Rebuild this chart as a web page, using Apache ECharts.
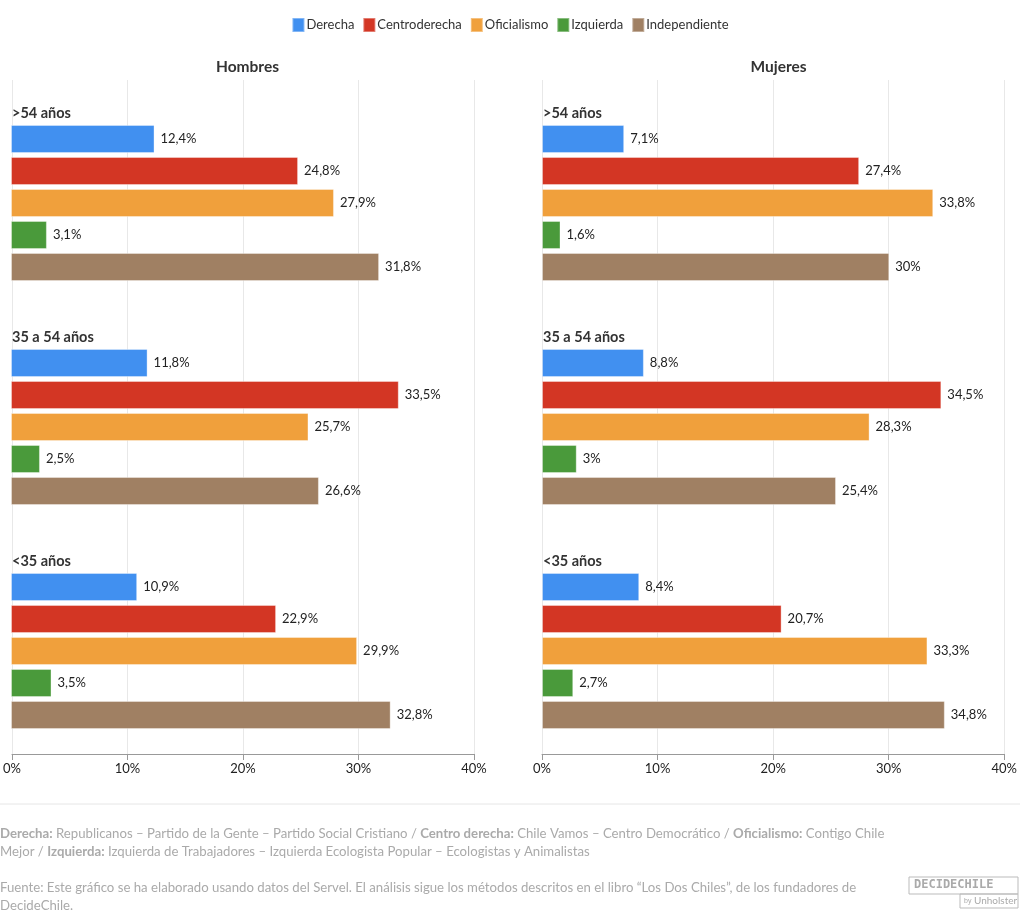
<!DOCTYPE html>
<html><head><meta charset="utf-8">
<script src="https://cdn.jsdelivr.net/npm/echarts@6/dist/echarts.min.js"></script>
<style>html,body{margin:0;padding:0;background:#fff}#c{width:1020px;height:913px}</style>
</head><body><div id="c"></div>
<script>
const parties = ['Derecha','Centroderecha','Oficialismo','Izquierda','Independiente'];
const colors = ['#4190f0','#d33624','#f0a03c','#4a9a3b','#a08063'];
const ageGroups = ['>54 años','35 a 54 años','<35 años'];
const panels = ['Hombres','Mujeres'];
// values[panel][ageGroup][party]
const hombres_mayor54 = [12.4,24.8,27.9,3.1,31.8];
const hombres_35a54 = [11.8,33.5,25.7,2.5,26.6];
const hombres_menor35 = [10.9,22.9,29.9,3.5,32.8];
const mujeres_mayor54 = [7.1,27.4,33.8,1.6,30];
const mujeres_35a54 = [8.8,34.5,28.3,3,25.4];
const mujeres_menor35 = [8.4,20.7,33.3,2.7,34.8];
const xTicks = [0,10,20,30,40];
const panelData = [[hombres_mayor54,hombres_35a54,hombres_menor35],[mujeres_mayor54,mujeres_35a54,mujeres_menor35]];

const FONT = 'Lato, "Noto Sans", sans-serif';
const cats = [];
ageGroups.forEach((g,gi)=>{
  cats.push(g);
  parties.forEach(p=>cats.push(g+'|'+p));
  if (gi < ageGroups.length-1) cats.push('gap'+gi);
});

const panelLeft = [11,542], panelW = 463;
const grids=[], xAxes=[], yAxes=[], series=[], titles=[];
panels.forEach((pn,pi)=>{
  grids.push({left:panelLeft[pi], width:panelW, top:80, height:674});
  xAxes.push({gridIndex:grids.length-1, type:'value', min:xTicks[0], max:xTicks[xTicks.length-1], interval:xTicks[1]-xTicks[0],
    axisLine:{show:true,lineStyle:{color:'#999'}}, axisTick:{show:true,length:6,lineStyle:{color:'#999'}},
    axisLabel:{formatter:'{value}%', color:'#222', fontSize:13, fontFamily:FONT, margin:8},
    splitLine:{show:true,lineStyle:{color:'#e8e8e8'}}});
  yAxes.push({gridIndex:grids.length-1, type:'category', data:['a'], show:false});
  grids.push({left:panelLeft[pi], width:panelW, top:91, height:640});
  const gi = grids.length-1;
  xAxes.push({gridIndex:gi, type:'value', min:0, max:40, show:false, splitLine:{show:false}});
  yAxes.push({gridIndex:gi, type:'category', data:cats, inverse:true,
    axisLine:{show:false}, axisTick:{show:false}, splitLine:{show:false},
    axisLabel:{inside:true, margin:1, interval:0,
      formatter:v=> (v.includes('|')||v.startsWith('gap'))?'':'{g|'+v+'}',
      align:'left',
      rich:{g:{fontWeight:'bold', fontSize:14.5, color:'#333', fontFamily:FONT, padding:[13,0,0,0]}}}});
  parties.forEach((p,k)=>{
    const data = cats.map(c=>{
      const parts = c.split('|');
      if (parts.length===2 && parts[1]===p) {
        const ag = ageGroups.indexOf(parts[0]);
        return panelData[pi][ag][k];
      }
      return null;
    });
    series.push({name:p, type:'bar', xAxisIndex:xAxes.length-1, yAxisIndex:yAxes.length-1,
      stack:'s'+pi, data, barWidth:28, itemStyle:{color:colors[k], borderColor:'rgba(255,255,255,0.35)', borderWidth:1},
      label:{show:true, position:'right', distance:6, color:'#222', fontSize:13, fontFamily:FONT,
        formatter:pr=> pr.value==null?'':String(pr.value).replace('.',',')+'%'},
      emphasis:{disabled:true}, animation:false});
  });
  titles.push({text:pn, left:panelLeft[pi]+panelW/2, top:54, textAlign:'center',
    textStyle:{fontSize:15.5, fontWeight:'bold', color:'#333', fontFamily:FONT}});
});

const gray='#aaa';
const chart = echarts.init(document.getElementById('c'), null, {renderer:'canvas'});
chart.setOption({
  animation:false,
  title: titles,
  legend:{top:12, left:'center', itemWidth:12, itemHeight:14, itemGap:8, icon:'rect',
    textStyle:{fontSize:13, color:'#333', fontFamily:FONT, padding:[0,0,0,-3]}, data:parties},
  color: colors,
  grid: grids, xAxis: xAxes, yAxis: yAxes, series,
  graphic:[
    {type:'line', shape:{x1:0,y1:804,x2:1020,y2:804}, style:{stroke:'#e6e6e6', lineWidth:1}},
    {type:'text', left:0, top:825, style:{
      text:'{b|Derecha:} Republicanos – Partido de la Gente – Partido Social Cristiano / {b|Centro derecha:} Chile Vamos – Centro Democrático / {b|Oficialismo:} Contigo Chile\nMejor / {b|Izquierda:} Izquierda de Trabajadores – Izquierda Ecologista Popular – Ecologistas y Animalistas',
      fill:gray, font:'13.2px '+FONT, lineHeight:18,
      rich:{b:{fontWeight:'bold', fill:gray, fontSize:13.2, fontFamily:FONT, lineHeight:18}}}},
    {type:'text', left:0, top:879, style:{
      text:'Fuente: Este gráfico se ha elaborado usando datos del Servel. El análisis sigue los métodos descritos en el libro “Los Dos Chiles”, de los fundadores de\nDecideChile.',
      fill:gray, font:'13.2px '+FONT, lineHeight:18}},
    {type:'rect', shape:{x:909,y:877,width:109,height:17}, style:{fill:'none', stroke:'#bbb', lineWidth:1}},
    {type:'text', left:914, top:879, style:{text:'DECIDECHILE', fill:'#aaa', font:'bold 12px "DejaVu Sans Mono", monospace'}},
    {type:'rect', shape:{x:960,y:894,width:58,height:14}, style:{fill:'none', stroke:'#bbb', lineWidth:1}},
    {type:'text', left:964, top:896, style:{text:'{s|by} Unholster', fill:'#aaa', font:'10px '+FONT, rich:{s:{fontSize:7, fill:'#aaa'}}}}
  ]
});
</script></body></html>
